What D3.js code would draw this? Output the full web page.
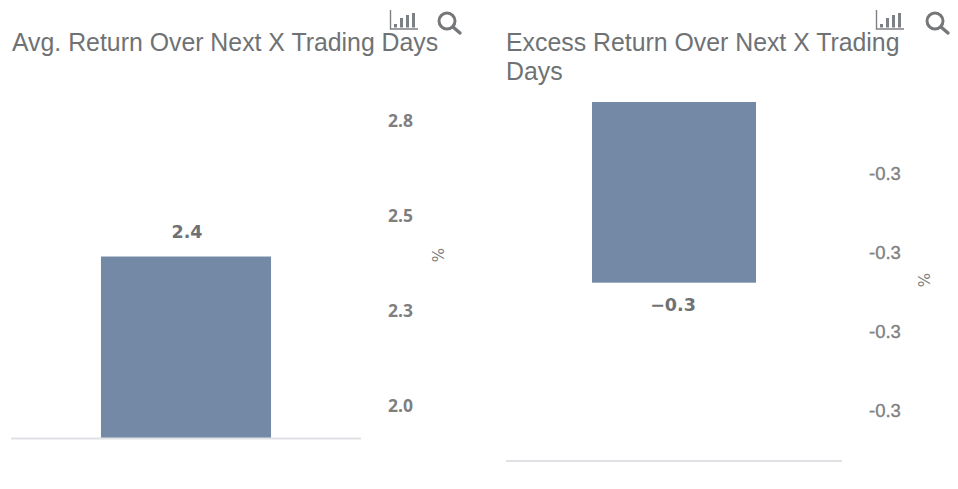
<!DOCTYPE html>
<html><head><meta charset="utf-8">
<script src="https://cdn.jsdelivr.net/npm/d3@7/dist/d3.min.js"></script>
<style>html,body{margin:0;padding:0;background:#fff}svg{display:block}</style>
</head><body><svg id="c" width="958" height="489"></svg>
<script>
const leftTitle = ["Avg. Return Over Next X Trading Days"];
const leftTicks = [2.0, 2.25, 2.5, 2.75];
const leftValues = [2.392];
const leftLabels = ["2.4"];
const leftDomain = [1.913, 2.8];

const rightTitle = ["Excess Return Over Next X Trading", "Days"];
const rightTicks = [-0.30, -0.29, -0.28, -0.27];
const rightTickLabels = ["-0.3", "-0.3", "-0.3", "-0.3"];
const rightValues = [-0.2838];
const rightLabels = ["\u22120.3"];
const rightDomain = [-0.3063, -0.261];

const svg = d3.select("#c");
const textGrey = "#6f7274", tickGrey = "#7f7f7f", barColor = "#7489a6", axisColor = "#dfe1e4";

function panel(o) {
  const g = svg.append("g");
  const y = d3.scaleLinear().domain(o.domain).range(o.yRange);
  const x = d3.scaleBand().domain(o.values.map((_, i) => i)).range(o.xRange).padding(o.padding);

  g.selectAll("text.title").data(o.title).join("text").attr("class", "title")
    .attr("x", o.titleX).attr("y", (_, i) => o.titleY + i * 28.5)
    .attr("font-family", "Liberation Sans, Arial, sans-serif").attr("font-size", 24.85)
    .attr("fill", textGrey).text(d => d);

  const axis = d3.axisRight(y).tickValues(o.ticks).tickSize(0).tickPadding(0)
    .tickFormat((d, i) => o.tickLabels ? o.tickLabels[i] : d3.format(".1f")(d));
  const ag = g.append("g").attr("transform", `translate(${o.axisX},0)`).call(axis);
  ag.select(".domain").remove();
  ag.selectAll("text").attr("font-family", o.tickFont).attr("font-weight", o.tickWeight)
    .attr("font-size", o.tickSize).attr("fill", tickGrey)
    .attr("stroke", tickGrey).attr("stroke-width", o.tickStroke);

  g.selectAll("rect.bar").data(o.values).join("rect").attr("class", "bar")
    .attr("x", (_, i) => x(i)).attr("width", x.bandwidth())
    .attr("y", d => o.hang ? y(o.domain[1]) : y(d))
    .attr("height", d => o.hang ? y(d) - y(o.domain[1]) : y(o.domain[0]) - y(d))
    .attr("fill", barColor);

  g.selectAll("text.val").data(o.values).join("text").attr("class", "val")
    .attr("x", (_, i) => x(i) + x.bandwidth() / 2 + o.labelDx)
    .attr("y", d => y(d) + o.labelDy)
    .attr("text-anchor", "middle").attr("font-family", "DejaVu Sans, Verdana, sans-serif")
    .attr("font-weight", "bold").attr("font-size", 17.5).attr("fill", textGrey)
    .text((_, i) => o.labels[i]);

  g.append("line").attr("x1", o.xRange[0]).attr("x2", o.xRange[1])
    .attr("y1", y(o.domain[0])).attr("y2", y(o.domain[0]))
    .attr("stroke", axisColor).attr("stroke-width", 2);

  g.append("text").attr("transform", `translate(${o.unitX},${o.unitY}) rotate(-90)`)
    .attr("text-anchor", "middle").attr("font-family", "DejaVu Sans, sans-serif")
    .attr("font-size", 15).attr("fill", tickGrey).text("%");

  // toolbar icons
  const ic = g.append("g").attr("transform", `translate(${o.iconX},0)`)
    .attr("fill", "none").attr("stroke", "#7d8084");
  ic.append("path").attr("d", "M0.5,10V29H28").attr("stroke-width", 1.4);
  ic.selectAll("line.ib").data([[5.5, 24], [11.5, 18], [17.5, 15], [23.5, 13]]).join("line")
    .attr("class", "ib").attr("x1", d => d[0]).attr("x2", d => d[0])
    .attr("y1", 27.5).attr("y2", d => d[1]).attr("stroke-width", 3);
  const m = ic.append("g").attr("transform", `translate(${o.lensDx},0)`).attr("stroke", "#757779");
  m.append("circle").attr("cx", 0).attr("cy", 21).attr("r", 8).attr("stroke-width", 3);
  m.append("line").attr("x1", 6).attr("y1", 27).attr("x2", 13).attr("y2", 33)
    .attr("stroke-width", 3.4).attr("stroke-linecap", "round");
}

panel({title: leftTitle, titleX: 12, titleY: 51, domain: leftDomain, yRange: [438.5, 101.5],
  ticks: leftTicks, values: leftValues, labels: leftLabels, xRange: [11, 361], padding: 0.346,
  axisX: 388, tickSize: 17.5, tickWeight: 700, tickStroke: 0, tickFont: "Open Sans, sans-serif",
  labelDx: 1, labelDy: -18.5, unitX: 444, unitY: 255, iconX: 390, lensDx: 57});

panel({title: rightTitle, titleX: 506, titleY: 51, domain: rightDomain, yRange: [461, 102],
  ticks: rightTicks, tickLabels: rightTickLabels, values: rightValues, labels: rightLabels,
  xRange: [506, 842], padding: 0.344, hang: true,
  axisX: 869, tickSize: 18.5, tickWeight: 400, tickStroke: 0.35, tickFont: "Liberation Sans, Arial, sans-serif",
  labelDx: -1, labelDy: 28, unitX: 930, unitY: 280, iconX: 876, lensDx: 59});
</script></body></html>
